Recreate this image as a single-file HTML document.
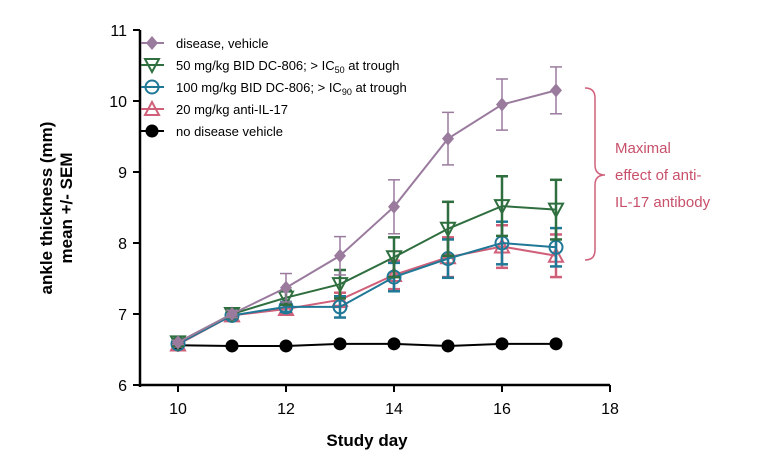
<!DOCTYPE html>
<html><head><meta charset="utf-8"><style>
body{margin:0;background:#fff;font-family:"Liberation Sans",Arial,sans-serif}
svg text{font-family:"Liberation Sans",Arial,sans-serif}
</style></head><body>
<svg id="chart" width="774" height="469" xmlns="http://www.w3.org/2000/svg"></svg>
<script>
const days=[10,11,12,13,14,15,16,17];
const xTicks=[10,12,14,16,18];
const yTicks=[6,7,8,9,10,11];
const vehicle=[6.6,7.0,7.37,7.82,8.51,9.47,9.95,10.15];
const vehicleErr=[0.03,0.05,0.2,0.27,0.38,0.37,0.36,0.33];
const dc50=[6.6,7.0,7.23,7.42,7.8,8.2,8.52,8.47];
const dc50Err=[0.05,0.05,0.1,0.2,0.28,0.38,0.42,0.42];
const dc100=[6.58,6.98,7.1,7.1,7.52,7.78,8.0,7.94];
const dc100Err=[0.03,0.05,0.07,0.15,0.2,0.27,0.3,0.27];
const il17=[6.57,6.98,7.07,7.2,7.55,7.8,7.95,7.82];
const il17Err=[0.03,0.05,0.07,0.1,0.2,0.28,0.3,0.3];
const noDisease=[6.56,6.55,6.55,6.58,6.58,6.55,6.58,6.58];
const names=["disease, vehicle","50 mg/kg BID DC-806; > IC50 at trough","100 mg/kg BID DC-806; > IC90 at trough","20 mg/kg anti-IL-17","no disease vehicle"];

const NS="http://www.w3.org/2000/svg";
const svg=document.getElementById('chart');
const X=d=>178+(d-10)*54;
const Y=v=>385-(v-6)*71;
function el(tag,attrs,parent){const e=document.createElementNS(NS,tag);for(const k in attrs)e.setAttribute(k,attrs[k]);(parent||svg).appendChild(e);return e;}

// axes
let a=el('line',{x1:140,y1:30,x2:140,y2:387,stroke:'#000','stroke-width':2.5});


a=el('line',{x1:139,y1:385,x2:610,y2:385,stroke:'#000','stroke-width':2.5});


yTicks.forEach(v=>{
  el('line',{x1:133,y1:Y(v),x2:140,y2:Y(v),stroke:'#000','stroke-width':2});
  const t=el('text',{x:127,y:Y(v)+6,'text-anchor':'end','font-size':16});t.textContent=v;
  
  
});
xTicks.forEach(d=>{
  el('line',{x1:X(d),y1:385,x2:X(d),y2:392,stroke:'#000','stroke-width':2});
  const t=el('text',{x:X(d),y:414,'text-anchor':'middle','font-size':16});t.textContent=d;
  
  
});
let t=el('text',{x:367,y:446,'text-anchor':'middle','font-size':17,'font-weight':'bold'});t.textContent='Study day';


const g=el('g',{transform:'translate(0,0)'});
t=el('text',{transform:'translate(52,208) rotate(-90)','text-anchor':'middle','font-size':17,'font-weight':'bold'},g);t.textContent='ankle thickness (mm)';


t=el('text',{transform:'translate(72,208) rotate(-90)','text-anchor':'middle','font-size':17,'font-weight':'bold'},g);t.textContent='mean +/- SEM';



function marker(type,cx,cy,color,parent){
  if(type==='diamond')return el('polygon',{points:`${cx},${cy-7} ${cx+6},${cy} ${cx},${cy+7} ${cx-6},${cy}`,fill:color},parent);
  if(type==='down')return el('polygon',{points:`${cx-7},${cy-6} ${cx+7},${cy-6} ${cx},${cy+7}`,fill:'none',stroke:color,'stroke-width':2},parent);
  if(type==='up')return el('polygon',{points:`${cx-7},${cy+6} ${cx+7},${cy+6} ${cx},${cy-7}`,fill:'none',stroke:color,'stroke-width':2},parent);
  if(type==='circle')return el('circle',{cx,cy,r:6.5,fill:'none',stroke:color,'stroke-width':2},parent);
  return el('circle',{cx,cy,r:6.5,fill:color},parent);
}
const series=[
 {vals:noDisease,err:null,color:'#000',m:'dot',n:'no-disease'},
 {vals:il17,err:il17Err,color:'#d0607a',m:'up',n:'anti-il17'},
 {vals:dc100,err:dc100Err,color:'#1f7896',m:'circle',n:'dc806-100'},
 {vals:dc50,err:dc50Err,color:'#2f6e3f',m:'down',n:'dc806-50'},
 {vals:vehicle,err:vehicleErr,color:'#9a7b9e',m:'diamond',n:'disease-vehicle'}
];
series.forEach(s=>{
  const grp=el('g',{});
  
  
  if(s.err) s.vals.forEach((v,i)=>{
    const x=X(days[i]),w=(s.m==='diamond')?1.5:2.5;
    el('line',{x1:x,y1:Y(v+s.err[i]),x2:x,y2:Y(v-s.err[i]),stroke:s.color,'stroke-width':w},grp);
    el('line',{x1:x-6,y1:Y(v+s.err[i]),x2:x+6,y2:Y(v+s.err[i]),stroke:s.color,'stroke-width':w},grp);
    el('line',{x1:x-6,y1:Y(v-s.err[i]),x2:x+6,y2:Y(v-s.err[i]),stroke:s.color,'stroke-width':w},grp);
  });
  el('polyline',{points:s.vals.map((v,i)=>X(days[i])+','+Y(v)).join(' '),fill:'none',stroke:s.color,'stroke-width':2},grp);
  s.vals.forEach((v,i)=>{const m=marker(s.m,X(days[i]),Y(v),s.color,grp);
    
    });
});

// legend
const legSeries=[series[4],series[3],series[2],series[1],series[0]];
legSeries.forEach((s,i)=>{
  const y=43+i*22;
  const lg=el('g',{});
  
  
  el('line',{x1:141,y1:y,x2:164,y2:y,stroke:s.color,'stroke-width':2},lg);
  marker(s.m,152,y,s.color,lg);
  const tx=el('text',{x:176,y:y+5,'font-size':13},lg);
  if(i===1||i===2){
    const parts=i===1?['50 mg/kg BID DC-806; > IC','50',' at trough']:['100 mg/kg BID DC-806; > IC','90',' at trough'];
    const a1=el('tspan',{},tx);a1.textContent=parts[0];
    const a2=el('tspan',{dy:3,'font-size':9},tx);a2.textContent=parts[1];
    const a3=el('tspan',{dy:-3},tx);a3.textContent=parts[2];
  } else tx.textContent=names[i];
});

// bracket annotation
const br=el('path',{d:'M585,88 Q595,88 595,98 L595,165 Q595,175 605,175 Q595,175 595,185 L595,250 Q595,260 585,260',fill:'none',stroke:'#d0607a','stroke-width':1.5});


['Maximal','effect of anti-','IL-17 antibody'].forEach((s,i)=>{
  const tt=el('text',{x:615,y:153+i*27,'font-size':15,fill:'#c8506a'});tt.textContent=s;
  
  
});
</script>
</body></html>
